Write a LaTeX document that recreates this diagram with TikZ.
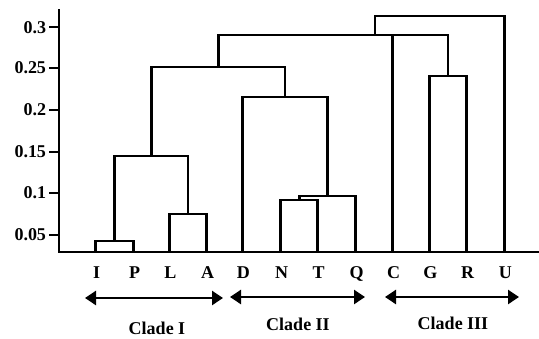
\documentclass[tikz,border=0pt]{standalone}
\usepackage{fontspec}
\setmainfont{Liberation Serif}
\usetikzlibrary{arrows.meta}
\begin{document}
\begin{tikzpicture}[x=1pt,y=-1pt,
  branch/.style={line width=2.8pt,line join=miter},
  axisline/.style={line width=2.8pt},
  tickline/.style={line width=2pt},
  labelfont/.style={font=\bfseries\fontsize{18}{18}\selectfont},
  ticklabel/.style={labelfont,anchor=east,inner sep=0pt},
  leaflabel/.style={labelfont,anchor=base,inner sep=0pt},
  cladelabel/.style={labelfont,inner sep=0pt},
  cladearrow/.style={line width=2.5pt,{Triangle[length=11pt,width=14pt]}-{Triangle[length=11pt,width=14pt]}}]
\useasboundingbox[fill=white] (0,0) rectangle (539,338);

% axes
\coordinate (ytop) at (59,9);
\coordinate (origin) at (59,252);
\coordinate (xend) at (539,252);
\draw[axisline] (ytop) -- (origin) -- (xend);

% ticks and their labels
\foreach \v/\yy [count=\k] in {0.3/27.4, 0.25/68, 0.2/110, 0.15/152, 0.1/193, 0.05/235}{
  \coordinate (tick\k) at (59,\yy);
  \draw[tickline] (tick\k) -- ++(-10,0) node[ticklabel,xshift=-2pt] (ticklab\k) {\v};
}

% leaves on the baseline
\foreach \n/\xx in {I/95.7, P/133.7, L/169.3, A/206.7, D/242.3, N/280.7,
                    T/317.7, Q/355.7, C/392.7, G/429.3, R/466.7, U/504.3}{
  \coordinate (\n) at (\xx,252);
  \node[leaflabel] (lab\n) at ([xshift=1pt]\xx,278.5) {\n};
}

% internal joins
\coordinate (ip)   at (114.7,241);
\coordinate (la)   at (188.0,214);
\coordinate (ipla) at (151.4,156);
\coordinate (nt)   at (299.2,200);
\coordinate (ntq)  at (327.4,196);
\coordinate (dntq) at (284.9,97);
\coordinate (c12)  at (218.1,67);
\coordinate (gr)   at (448.0,76);
\coordinate (poly) at (375.0,35);
\coordinate (root) at (439.7,16);

% dendrogram branches
\draw[branch] (I) |- (ip) -| (P);
\draw[branch] (L) |- (la) -| (A);
\draw[branch] (ip) |- (ipla) -| (la);
\draw[branch] (N) |- (nt) -| (T);
\draw[branch] (nt) |- (ntq) -| (Q);
\draw[branch] (D) |- (dntq) -| (ntq);
\draw[branch] (ipla) |- (c12) -| (dntq);
\draw[branch] (G) |- (gr) -| (R);
\draw[branch] (c12) |- (poly) -| (gr);
\draw[branch] (C) -- (C |- poly);
\draw[branch] (poly) |- (root) -| (U);

% clade spans
\coordinate (c1a) at (85,298);  \coordinate (c1b) at (223,298);
\coordinate (c2a) at (230,297); \coordinate (c2b) at (365,297);
\coordinate (c3a) at (385,297); \coordinate (c3b) at (519,297);
\draw[cladearrow] (c1a) -- (c1b);
\draw[cladearrow] (c2a) -- (c2b);
\draw[cladearrow] (c3a) -- (c3b);
\node[cladelabel] (clade1) at (157,328) {Clade I};
\node[cladelabel] (clade2) at (298,324) {Clade II};
\node[cladelabel] (clade3) at (453,323) {Clade III};
\end{tikzpicture}
\end{document}
